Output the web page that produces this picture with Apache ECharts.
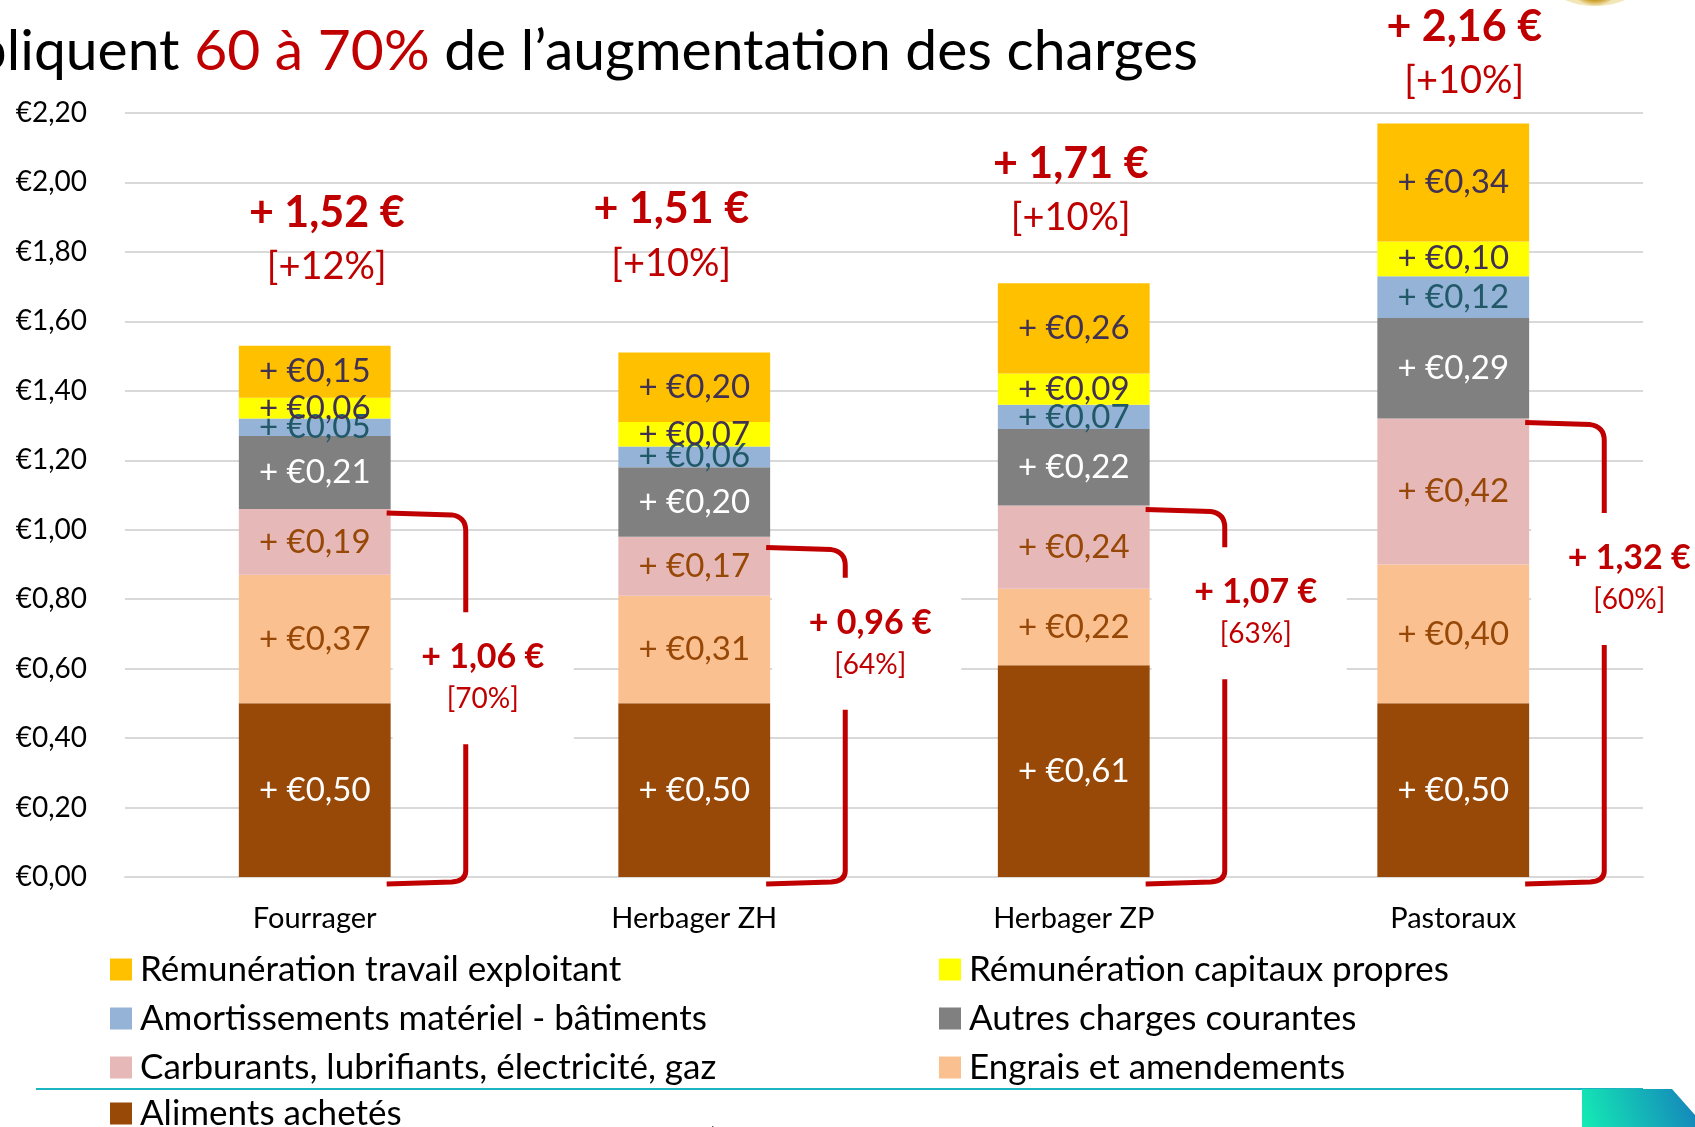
<!DOCTYPE html>
<html>
<head>
<meta charset="utf-8">
<script src="https://cdn.jsdelivr.net/npm/echarts@6/dist/echarts.min.js"></script>
<style>
  html, body { margin: 0; padding: 0; background: #fff; }
  #chart { width: 1695px; height: 1127px; }
</style>
</head>
<body>
<div id="chart"></div>
<script>
// data
const categories = ['Fourrager', 'Herbager ZH', 'Herbager ZP', 'Pastoraux'];
const aliments = [0.50, 0.50, 0.61, 0.50];
const engrais = [0.37, 0.31, 0.22, 0.40];
const carburants = [0.19, 0.17, 0.24, 0.42];
const autres = [0.21, 0.20, 0.22, 0.29];
const amortissements = [0.05, 0.06, 0.07, 0.12];
const capitaux = [0.06, 0.07, 0.09, 0.10];
const travail = [0.15, 0.20, 0.26, 0.34];
const totals = [1.52, 1.51, 1.71, 2.16];
const totalPct = ['+12%', '+10%', '+10%', '+10%'];
const subtotals = [1.06, 0.96, 1.07, 1.32];
const subtotalShare = ['70%', '64%', '63%', '60%'];

// layout tweaks for annotations (px / fraction)
const totalLift = [136, 143, 119, 100];
const totalShift = [12, -23, -3, 11];
const bracketTextAt = [0.46, 0.30, 0.29, 0.35];
const bracketTextShift = [-8, 0, 6, 0];

const FONT = 'Lato, "Open Sans", sans-serif';
const RED = '#c00000';

const euro = v => '€' + v.toFixed(2).replace('.', ',');
const plusEuro = p => '+ ' + euro(p.value);

function barSeries(name, data, color, labelColor) {
  return {
    name: name,
    type: 'bar',
    stack: 'total',
    barWidth: '40%',
    data: data,
    itemStyle: { color: color },
    label: {
      show: true,
      position: 'inside',
      formatter: plusEuro,
      color: labelColor,
      fontFamily: FONT,
      fontSize: 33
    }
  };
}

function legendBlock(left, top, names) {
  return {
    left: left, top: top, orient: 'vertical', icon: 'rect', padding: 0,
    itemWidth: 22, itemHeight: 22, itemGap: 14, selectedMode: false,
    textStyle: { fontFamily: FONT, fontSize: 35, color: '#000', lineHeight: 34, padding: [0, 0, 0, 3] },
    data: names
  };
}

const chart = echarts.init(document.getElementById('chart'));

const option = {
  animation: false,
  backgroundColor: '#fff',
  grid: { left: 125, right: 52, top: 113, bottom: 250 },
  legend: [
    legendBlock(110, 952, ['Rémunération travail exploitant', 'Amortissements matériel - bâtiments',
      'Carburants, lubrifiants, électricité, gaz']),
    legendBlock(110, 1096, ['Aliments achetés']),
    legendBlock(939, 952, ['Rémunération capitaux propres', 'Autres charges courantes', 'Engrais et amendements'])
  ],
  xAxis: {
    type: 'category',
    data: categories,
    axisLine: { lineStyle: { color: '#d9d9d9', width: 2 } },
    axisTick: { show: false },
    axisLabel: { fontFamily: FONT, fontSize: 29, color: '#000', margin: 27 }
  },
  yAxis: {
    type: 'value',
    min: 0,
    max: 2.2,
    interval: 0.2,
    axisLine: { show: false },
    axisTick: { show: false },
    splitLine: { lineStyle: { color: '#d9d9d9', width: 2 } },
    axisLabel: { formatter: euro, fontFamily: FONT, fontSize: 28, color: '#000', margin: 38 }
  },
  series: [
    barSeries('Aliments achetés', aliments, '#984807', '#fff'),
    barSeries('Engrais et amendements', engrais, '#fac090', '#974706'),
    barSeries('Carburants, lubrifiants, électricité, gaz', carburants, '#e6b9b8', '#974706'),
    barSeries('Autres charges courantes', autres, '#808080', '#fff'),
    barSeries('Amortissements matériel - bâtiments', amortissements, '#95b3d7', '#215968'),
    barSeries('Rémunération capitaux propres', capitaux, '#ffff00', '#403152'),
    barSeries('Rémunération travail exploitant', travail, '#ffc000', '#403152'),
    {
      // total increase above each bar
      type: 'custom',
      clip: false,
      z: 10,
      data: totals.map((t, i) => [i, t]),
      renderItem: function (params, api) {
        const i = api.value(0);
        const p = api.coord([i, api.value(1)]);
        const x = p[0] + totalShift[i];
        const y = p[1] - totalLift[i];
        return {
          type: 'group',
          children: [
            { type: 'text', style: { x: x, y: y, text: '+ ' + api.value(1).toFixed(2).replace('.', ',') + ' €',
              fill: RED, font: 'bold 43px ' + FONT, align: 'center', verticalAlign: 'middle' } },
            { type: 'text', style: { x: x, y: y + 54, text: '[' + totalPct[i] + ']',
              fill: RED, font: '38px ' + FONT, align: 'center', verticalAlign: 'middle' } }
          ]
        };
      }
    },
    {
      // bracket: aliments + engrais + carburants
      type: 'custom',
      clip: false,
      z: 10,
      data: subtotals.map((s, i) => [i, s]),
      renderItem: function (params, api) {
        const i = api.value(0);
        const top = api.coord([i, api.value(1)]);
        const cx = top[0];
        const yTop = top[1];
        const yBot = api.coord([i, 0])[1];
        const half = api.size([1, 0])[0] * 0.2;
        const x0 = cx + half - 4;
        const xb = cx + 151;
        const xt = cx + 176 + bracketTextShift[i];
        const yt = yTop + (yBot - yTop) * bracketTextAt[i];
        const gTop = yt - 66;
        const gBot = yt + 66;
        const line = { stroke: RED, lineWidth: 5, fill: null };
        return {
          type: 'group',
          children: [
            { type: 'rect', shape: { x: cx + half + 2, y: gTop, width: xt + 91 - (cx + half + 2), height: gBot - gTop },
              style: { fill: '#fff' } },
            { type: 'path', shape: { pathData:
                'M' + x0 + ' ' + (yTop + 4) + ' L' + (xb - 14) + ' ' + (yTop + 6) +
                ' Q' + xb + ' ' + (yTop + 8) + ' ' + xb + ' ' + (yTop + 22) + ' L' + xb + ' ' + gTop },
              style: line },
            { type: 'path', shape: { pathData:
                'M' + xb + ' ' + gBot + ' L' + xb + ' ' + (yBot - 6) +
                ' Q' + xb + ' ' + (yBot + 4) + ' ' + (xb - 14) + ' ' + (yBot + 5) + ' L' + x0 + ' ' + (yBot + 7) },
              style: line },
            { type: 'text', style: { x: xt, y: yt - 21, text: '+ ' + api.value(1).toFixed(2).replace('.', ',') + ' €',
              fill: RED, font: 'bold 34px ' + FONT, align: 'center', verticalAlign: 'middle' } },
            { type: 'text', style: { x: xt, y: yt + 21, text: '[' + subtotalShare[i] + ']',
              fill: RED, font: '28px ' + FONT, align: 'center', verticalAlign: 'middle' } }
          ]
        };
      }
    }
  ],
  graphic: [
    {
      type: 'text', x: 1198, y: 52,
      style: {
        text: 'expliquent {r|60 à 70%} de l’augmentation des charges',
        font: '57px ' + FONT, fill: '#000', align: 'right', verticalAlign: 'middle',
        rich: { r: { fill: RED, fontSize: 57, fontFamily: FONT } }
      }
    },
    {
      type: 'ellipse', shape: { cx: 1595, cy: -24, rx: 50, ry: 30 },
      style: { fill: new echarts.graphic.RadialGradient(0.5, 0.5, 0.5, [
        { offset: 0, color: '#d9a520' }, { offset: 0.8, color: '#c9971c' }, { offset: 1, color: '#f3e6b8' }]) }
    },
    {
      type: 'line', shape: { x1: 36, y1: 1089, x2: 1643, y2: 1089 },
      style: { stroke: '#1ab5c1', lineWidth: 2 }
    },
    {
      type: 'polygon',
      shape: { points: [[1582, 1089], [1672, 1089], [1695, 1115], [1695, 1127], [1582, 1127]] },
      style: { fill: new echarts.graphic.LinearGradient(0, 1, 1, 0, [
        { offset: 0, color: '#14ecb4' }, { offset: 1, color: '#1582bb' }]) }
    },
    {
      type: 'text', x: 951, y: 1140,
      style: { text: 'source : enquête (IDR Elevage 2022', font: '30px ' + FONT, fill: '#222',
        align: 'right', verticalAlign: 'middle' }
    }
  ]
};

chart.setOption(option);
</script>
</body>
</html>
